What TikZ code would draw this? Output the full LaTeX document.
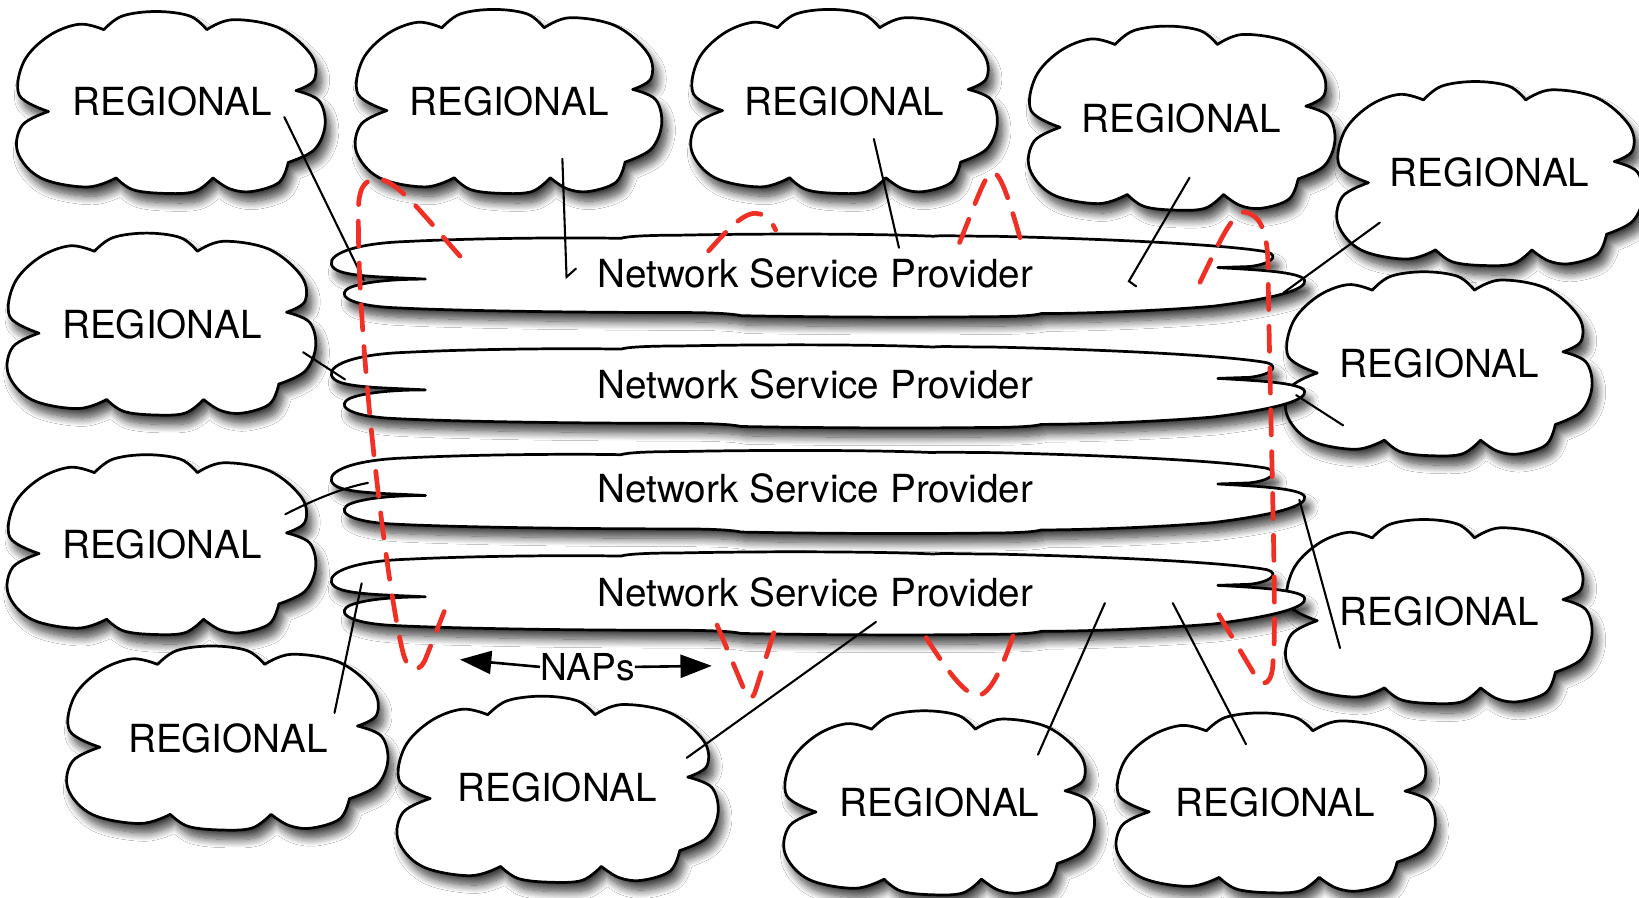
\documentclass[tikz,border=0pt]{standalone}
\usepackage{fontspec}
\setmainfont{TeX Gyre Heros}
\usetikzlibrary{shadows.blur,arrows.meta}
\definecolor{napred}{RGB}{240,48,36}
\tikzset{
  softshadow/.style={blur shadow={shadow xshift=5pt, shadow yshift=-9pt, shadow blur radius=8pt, shadow blur steps=12, shadow opacity=75}},
  cloudstyle/.style={draw=black, line width=2.6pt, fill=white, line join=round, softshadow},
  rtext/.style={font=\fontsize{37}{40}\selectfont, inner sep=0pt},
  nspstyle/.style={draw=black, line width=2.6pt, fill=white, line join=round, softshadow},
  link/.style={line width=2pt, line cap=round},
  napline/.style={draw=napred, line width=4.5pt, dash pattern=on 24pt off 16pt, line cap=round},
  naparrow/.style={line width=2.5pt, -{Triangle[length=30pt, width=22pt]}},
  puff/.style={smooth, tension=0.6},
  nspshape/.pic={
    \path[nspstyle] (407,4) .. controls (370,2) and (330,2) .. (320,-6)
      .. controls (308,-16) and (330,-30) .. (390,-32)
      .. controls (450,-35) and (540,-36) .. (594,-35)
      .. controls (600,-37) and (620,-38) .. (650,-38)
      .. controls (750,-40) and (850,-39) .. (893,-37)
      .. controls (900,-38) and (920,-37) .. (950,-37)
      .. controls (1080,-34) and (1180,-28) .. (1212,-22)
      .. controls (1225,-18) and (1215,-10) .. (1195,-8)
      -- (1165,-7)
      .. controls (1200,-5) and (1245,-3) .. (1248,5)
      .. controls (1251,13) and (1225,22) .. (1160,30)
      .. controls (1100,35) and (1030,37) .. (996,37)
      .. controls (990,39) and (970,40) .. (940,40)
      .. controls (850,41) and (760,40) .. (709,39)
      .. controls (700,37) and (680,36) .. (650,36)
      .. controls (540,36) and (420,34) .. (370,31)
      .. controls (330,28) and (322,18) .. (335,12)
      .. controls (350,6) and (380,4) .. (407,4) -- cycle;
  }
}
% cloud outline: centre x, centre y, half width, half height
\newcommand{\mycloud}[4]{%
  \begin{scope}[shift={(#1,#2)}, x=#3pt, y=-#4pt]
    \path[cloudstyle]
      plot[puff] coordinates {(-0.80,0.10) (-0.99,-0.08) (-0.96,-0.45) (-0.80,-0.73) (-0.60,-0.86) (-0.44,-0.80)}
      -- plot[puff] coordinates {(-0.44,-0.80) (-0.32,-0.95) (-0.10,-1.0) (0.12,-0.95) (0.23,-0.80)}
      -- plot[puff] coordinates {(0.23,-0.80) (0.40,-0.91) (0.70,-0.82) (0.91,-0.52) (0.93,-0.25) (0.81,-0.13)}
      -- plot[puff] coordinates {(0.81,-0.13) (0.96,-0.02) (1.0,0.25) (0.93,0.52) (0.76,0.66)}
      -- plot[puff] coordinates {(0.76,0.66) (0.70,0.88) (0.52,0.98) (0.38,0.95) (0.27,0.83)}
      -- plot[puff] coordinates {(0.27,0.83) (0.15,0.98) (-0.05,1.0) (-0.25,0.96) (-0.36,0.83)}
      -- plot[puff] coordinates {(-0.36,0.83) (-0.55,0.93) (-0.85,0.83) (-1.0,0.55) (-0.97,0.25) (-0.80,0.10)}
      -- cycle;
  \end{scope}}
\begin{document}
\begin{tikzpicture}[x=1pt,y=-1pt]
\useasboundingbox[fill=white] (0,0) rectangle (1568,859);

% regional clouds
\mycloud{164}{98}{147}{87}
\node[rtext] (r1) at (165,97) {REGIONAL};
\mycloud{487}{97}{146}{88}
\node[rtext] (r2) at (487,97) {REGIONAL};
\mycloud{808}{97}{146}{88}
\node[rtext] (r3) at (808,97) {REGIONAL};
\mycloud{1131}{113}{146}{88}
\node[rtext] (r4) at (1130,113) {REGIONAL};
\mycloud{1426}{166}{146}{88}
\node[rtext] (r5) at (1425,165) {REGIONAL};
\mycloud{155}{310}{147}{87}
\node[rtext] (r6) at (155,310) {REGIONAL};
\mycloud{1377}{348}{146}{88}
\node[rtext] (r7) at (1377,348) {REGIONAL};
\mycloud{155}{521}{147}{86}
\node[rtext] (r8) at (155,521) {REGIONAL};
\mycloud{1377}{585}{146}{88}
\node[rtext] (r9) at (1377,585) {REGIONAL};
\mycloud{218}{706}{153}{88}
\node[rtext] (r10) at (218,706) {REGIONAL};
\mycloud{534}{755}{153}{89}
\node[rtext] (r11) at (533,753) {REGIONAL};
\mycloud{899}{768}{148}{88}
\node[rtext] (r12) at (899,768) {REGIONAL};
\mycloud{1221}{768}{152}{86}
\node[rtext] (r13) at (1220,768) {REGIONAL};

% network service providers
\pic at (0,263) {nspshape};
\pic at (0,369) {nspshape};
\pic at (0,470) {nspshape};
\pic at (0,567) {nspshape};
\node[rtext] (nsp1) at (780,262) {Network Service Provider};
\node[rtext] (nsp2) at (780,368) {Network Service Provider};
\node[rtext] (nsp3) at (780,467) {Network Service Provider};
\node[rtext] (nsp4) at (780,567) {Network Service Provider};

% connector end points
\coordinate (a1) at (272,112);  \coordinate (b1) at (348,268);
\coordinate (a2) at (538,152);  \coordinate (b2) at (542,265);  \coordinate (h2) at (551,257);
\coordinate (a3) at (836,133);  \coordinate (b3) at (860,237);
\coordinate (a4) at (1138,170); \coordinate (b4) at (1080,269); \coordinate (h4) at (1087,274);
\coordinate (a5) at (1320,213); \coordinate (b5) at (1228,280);
\coordinate (a6) at (290,337);  \coordinate (b6) at (330,363);
\coordinate (a7) at (1285,407); \coordinate (b7) at (1240,378);
\coordinate (a8) at (273,492);  \coordinate (b8) at (352,462);
\coordinate (a9) at (1282,620); \coordinate (b9) at (1243,478);
\coordinate (a10) at (320,682); \coordinate (b10) at (346,558);
\coordinate (a11) at (657,725); \coordinate (b11) at (838,595);
\coordinate (a12) at (993,722); \coordinate (b12) at (1057,577);
\coordinate (a13) at (1192,712);\coordinate (b13) at (1122,577);

\draw[link] (a1) -- (b1);
\draw[link] (a2) -- (b2) -- (h2);
\draw[link] (a3) -- (b3);
\draw[link] (a4) -- (b4) -- (h4);
\draw[link] (a5) -- (b5);
\draw[link] (a6) -- (b6);
\draw[link] (a7) -- (b7);
\draw[link] (a8) .. controls (300,478) and (330,466) .. (b8);
\draw[link] (a9) -- (b9);
\draw[link] (a10) -- (b10);
\draw[link] (a11) -- (b11);
\draw[link] (a12) -- (b12);
\draw[link] (a13) -- (b13);

% NAPs label and arrows
\node[rtext, font=\fontsize{35.5}{40}\selectfont] (naps) at (562,638) {NAPs};
\coordinate (nl) at (440,631);
\coordinate (nr) at (681,637);
\draw[naparrow] (naps.west) -- (nl);
\draw[naparrow] (naps.east) -- (nr);

% NAP red dashed curves
\draw[napline] (440,245) .. controls (400,200) and (375,165) .. (355,172)
  .. controls (340,178) and (343,200) .. (343,230)
  .. controls (345,350) and (370,560) .. (385,622)
  .. controls (390,645) and (402,645) .. (408,628) -- (425,585);
\draw[napline] (678,240) .. controls (700,215) and (715,200) .. (728,205)
  .. controls (735,208) and (740,215) .. (742,220);
\draw[napline] (918,232) .. controls (935,190) and (943,165) .. (950,165)
  .. controls (958,165) and (968,200) .. (980,242);
\draw[napline] (1148,270) .. controls (1165,235) and (1180,200) .. (1192,203)
  .. controls (1205,206) and (1212,220) .. (1213,250)
  .. controls (1215,400) and (1222,600) .. (1218,630)
  .. controls (1218,655) and (1208,660) .. (1200,645) -- (1160,578);
\draw[napline] (686,598) -- (712,660) .. controls (716,670) and (720,670) .. (723,660) -- (742,600);
\draw[napline] (886,610) .. controls (905,640) and (925,668) .. (937,665)
  .. controls (950,662) and (962,630) .. (972,600);
\end{tikzpicture}
\end{document}
